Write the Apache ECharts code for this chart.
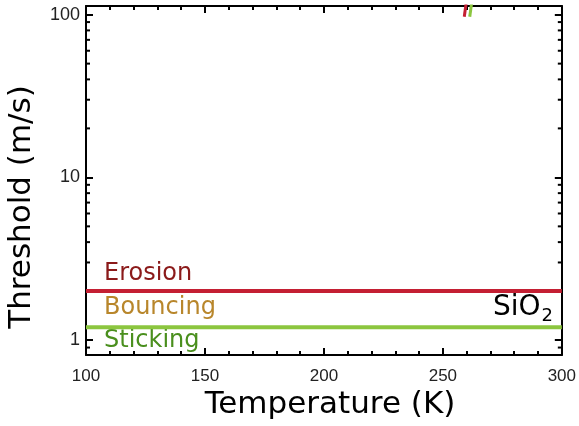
<!DOCTYPE html>
<html>
<head>
<meta charset="utf-8">
<script src="https://cdn.jsdelivr.net/npm/echarts@6/dist/echarts.min.js"></script>
<style>
  html, body { margin: 0; padding: 0; background: #fff; }
  #chart { width: 579px; height: 426px; }
</style>
</head>
<body>
<div id="chart"></div>
<script>
// Temperature range (K) and threshold velocities (m/s) for SiO2 grains
const tempRange = [100, 300];
const erosionThreshold = [[100, 2.0], [300, 2.0]];
const stickingThreshold = [[100, 1.2], [300, 1.2]];
// short stray segments of steep curves leaving the top of the frame
const erosionStray = [[259.0, 97], [259.8, 118]];
const stickingStray = [[261.3, 97], [262.1, 118]];
// log-axis minor tick values
const yMinorTicks = [0.9, 2, 3, 4, 5, 6, 7, 8, 9, 20, 30, 40, 50, 60, 70, 80, 90];
const yMin = 0.81, yMax = 113;

const chart = echarts.init(document.getElementById('chart'));

const axisLine = { show: true, onZero: false, lineStyle: { color: '#000', width: 2 } };
const majorTick = { show: true, inside: true, length: 7, lineStyle: { color: '#000', width: 2 } };
const minorTickX = { show: true, splitNumber: 5, length: 4, lineStyle: { color: '#000', width: 2 } };

function xAxisDef(pos, showLabel) {
  return {
    type: 'value', position: pos, min: tempRange[0], max: tempRange[1], interval: 50,
    axisLine, axisTick: majorTick, minorTick: minorTickX,
    splitLine: { show: false }, minorSplitLine: { show: false },
    axisLabel: { show: showLabel, margin: 13, fontFamily: 'Liberation Sans', fontSize: 17, color: '#222' }
  };
}
function yAxisDef(pos, showLabel) {
  return {
    type: 'log', logBase: 10, position: pos, min: yMin, max: yMax,
    axisLine, axisTick: majorTick, splitLine: { show: false },
    axisLabel: { show: showLabel, margin: 6, showMinLabel: false, showMaxLabel: false,
                 fontFamily: 'Liberation Sans', fontSize: 18, color: '#222' }
  };
}

chart.setOption({
  animation: false,
  grid: { left: 86, right: 16, top: 6, bottom: 71, containLabel: false },
  xAxis: [xAxisDef('bottom', true), xAxisDef('top', false)],
  yAxis: [yAxisDef('left', true), yAxisDef('right', false)],
  series: [
    {
      type: 'custom', xAxisIndex: 0, yAxisIndex: 0, clip: false, silent: true,
      data: yMinorTicks.map(v => [tempRange[0], v]),
      encode: { x: 0, y: 1 },
      renderItem: function (params, api) {
        const v = api.value(1);
        const pl = api.coord([tempRange[0], v]);
        const pr = api.coord([tempRange[1], v]);
        const style = { stroke: '#000', lineWidth: 2 };
        return {
          type: 'group',
          children: [
            { type: 'line', shape: { x1: pl[0], y1: pl[1], x2: pl[0] + 4, y2: pl[1] }, style },
            { type: 'line', shape: { x1: pr[0] - 4, y1: pr[1], x2: pr[0], y2: pr[1] }, style }
          ]
        };
      }
    },
    {
      name: 'Erosion', type: 'line', data: erosionThreshold, symbol: 'none',
      lineStyle: { color: '#c41f33', width: 4 }, silent: true
    },
    {
      name: 'Sticking', type: 'line', data: stickingThreshold, symbol: 'none',
      lineStyle: { color: '#8cc63f', width: 4 }, silent: true
    },
    {
      type: 'line', data: erosionStray, symbol: 'none', clip: true,
      lineStyle: { color: '#c41f33', width: 3 }, silent: true
    },
    {
      type: 'line', data: stickingStray, symbol: 'none', clip: true,
      lineStyle: { color: '#8cc63f', width: 3 }, silent: true
    }
  ],
  graphic: [
    { type: 'text', x: 330, y: 405, style: { text: 'Temperature (K)', font: '31px "DejaVu Sans"', fill: '#000', align: 'center', verticalAlign: 'middle' } },
    { type: 'text', x: 22, y: 207, rotation: Math.PI / 2, style: { text: 'Threshold (m/s)', font: '31px "DejaVu Sans"', fill: '#000', align: 'center', verticalAlign: 'middle' } },
    { type: 'text', x: 104, y: 274, style: { text: 'Erosion', font: '24px "DejaVu Sans"', fill: '#8b1a1a', verticalAlign: 'middle' } },
    { type: 'text', x: 104, y: 308, style: { text: 'Bouncing', font: '24px "DejaVu Sans"', fill: '#b8862b', verticalAlign: 'middle' } },
    { type: 'text', x: 104, y: 341, style: { text: 'Sticking', font: '24px "DejaVu Sans"', fill: '#4a8f1e', verticalAlign: 'middle' } },
    {
      type: 'text', x: 553, y: 308,
      style: {
        text: '{a|SiO}{b|2}', align: 'right', verticalAlign: 'middle',
        rich: {
          a: { fontFamily: 'DejaVu Sans', fontSize: 28, fill: '#000', color: '#000' },
          b: { fontFamily: 'DejaVu Sans', fontSize: 18, fill: '#000', color: '#000', padding: [16, 0, 0, 1] }
        }
      }
    }
  ]
});
</script>
</body>
</html>
